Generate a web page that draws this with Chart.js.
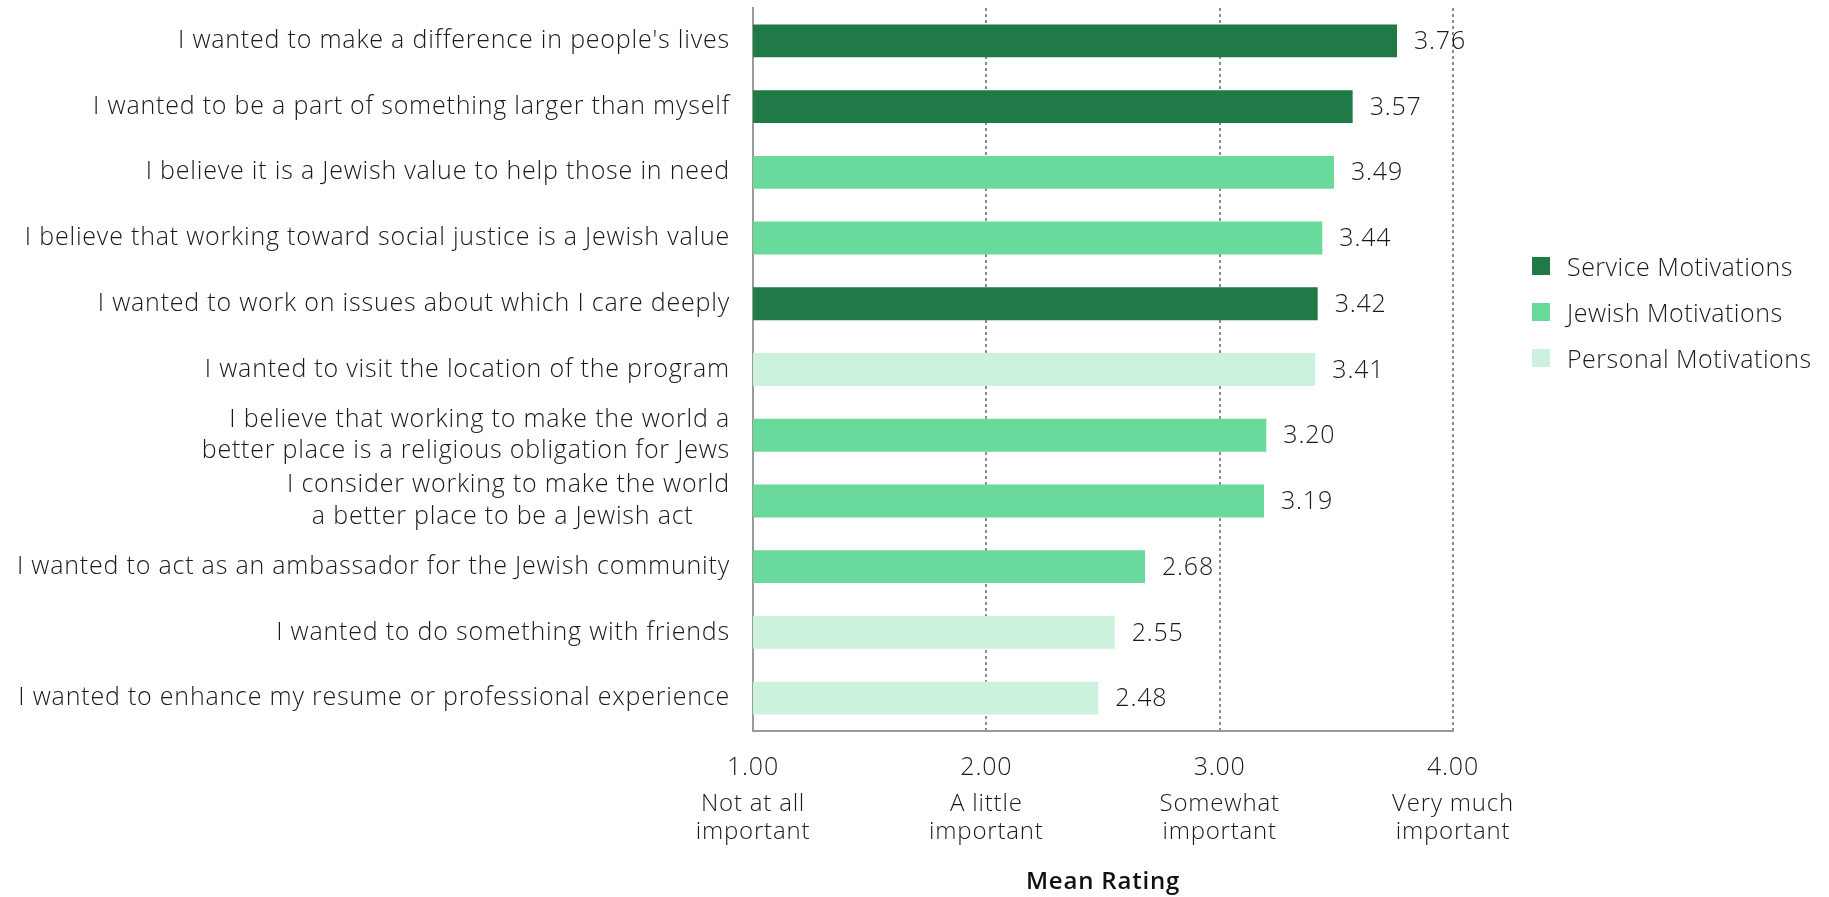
<!DOCTYPE html>
<html>
<head>
<meta charset="utf-8">
<script src="https://cdn.jsdelivr.net/npm/chart.js@4.4.0/dist/chart.umd.min.js"></script>
<style>
  html, body { margin: 0; padding: 0; background: #fff; }
  #contenedor { position: relative; width: 1829px; height: 897px; }
  #leyenda { position: absolute; left: 1532px; top: 243px; font-family: "Open Sans", sans-serif; font-weight: 300; font-size: 25px; letter-spacing: 0.5px; color: #1a1a1a; }
  .item { display: flex; align-items: center; height: 46px; white-space: nowrap; }
  .cuadro { width: 18px; height: 18px; margin-right: 17px; }
</style>
</head>
<body>
<div id="contenedor">
  <canvas id="grafico" width="1829" height="897"></canvas>
  <div id="leyenda"></div>
</div>
<script>
// datos
const categorias = [
  "I wanted to make a difference in people's lives",
  "I wanted to be a part of something larger than myself",
  "I believe it is a Jewish value to help those in need",
  "I believe that working toward social justice is a Jewish value",
  "I wanted to work on issues about which I care deeply",
  "I wanted to visit the location of the program",
  ["I believe that working to make the world a", "better place is a religious obligation for Jews"],
  ["I consider working to make the world", "a better place to be a Jewish act     "],
  "I wanted to act as an ambassador for the Jewish community",
  "I wanted to do something with friends",
  "I wanted to enhance my resume or professional experience"
];
const valores = [3.76, 3.57, 3.49, 3.44, 3.42, 3.41, 3.20, 3.19, 2.68, 2.55, 2.48];
const grupos = [0, 0, 1, 1, 0, 2, 1, 1, 1, 2, 2];
const nombresGrupos = ["Service Motivations", "Jewish Motivations", "Personal Motivations"];
const coloresGrupos = ["#1F7A48", "#69DA9B", "#CCF2DE"];
const ticksDescripcion = [
  ["Not at all", "important"],
  ["A little", "important"],
  ["Somewhat", "important"],
  ["Very much", "important"]
];

const fuente = "'Open Sans', sans-serif";
const colorTexto = "#1a1a1a";

// la fuente original es mas abierta, se agrega espaciado entre letras
const espaciado = {
  id: "espaciado",
  beforeLayout(chart) { chart.ctx.letterSpacing = "0.8px"; },
  beforeDraw(chart) { chart.ctx.letterSpacing = "0.8px"; }
};

// etiquetas de valor al final de cada barra
const etiquetasValores = {
  id: "etiquetasValores",
  afterDatasetsDraw(chart) {
    const ctx = chart.ctx;
    const meta = chart.getDatasetMeta(0);
    ctx.save();
    ctx.font = "300 25px " + fuente;
    ctx.fillStyle = colorTexto;
    ctx.textAlign = "left";
    ctx.textBaseline = "middle";
    meta.data.forEach((barra, i) => {
      ctx.fillText(valores[i].toFixed(2), barra.x + 17, barra.y + 1);
    });
    ctx.restore();
  }
};

new Chart(document.getElementById("grafico"), {
  type: "bar",
  data: {
    labels: categorias,
    datasets: [{
      label: "Mean Rating",
      data: valores,
      backgroundColor: grupos.map(g => coloresGrupos[g]),
      borderWidth: 0,
      barPercentage: 0.5,
      categoryPercentage: 1
    }]
  },
  options: {
    indexAxis: "y",
    responsive: false,
    animation: false,
    events: [],
    layout: { padding: { top: 8, right: 376, left: 0, bottom: 0 } },
    plugins: {
      legend: { display: false },
      tooltip: { enabled: false }
    },
    scales: {
      y: {
        grid: { display: false, drawTicks: false },
        border: { display: true, color: "#9a9a9a", width: 2 },
        ticks: {
          autoSkip: false,
          padding: 23,
          color: colorTexto,
          font: { family: fuente, size: 25, weight: 300, lineHeight: 1.26 }
        },
        afterFit(escala) {
          escala.width = 753;
          escala.paddingTop = 0;
          escala.paddingBottom = 0;
        }
      },
      x: {
        min: 1,
        max: 4,
        grid: {
          drawTicks: false,
          lineWidth: 2,
          color: ctx => (ctx.tick && ctx.tick.value === 1) ? "rgba(0,0,0,0)" : "#8c8c8c"
        },
        border: { display: true, color: "#9a9a9a", width: 2, dash: [3, 3] },
        ticks: {
          stepSize: 1,
          padding: 22,
          color: colorTexto,
          font: { family: fuente, size: 25, weight: 300 },
          callback: v => Number(v).toFixed(2)
        },
        afterFit(escala) { escala.height = 52; }
      },
      x2: {
        type: "linear",
        position: "bottom",
        min: 1,
        max: 4,
        grid: { display: false, drawTicks: false },
        border: { display: false },
        ticks: {
          stepSize: 1,
          padding: 7,
          color: colorTexto,
          font: { family: fuente, size: 24, weight: 300, lineHeight: 1.17 },
          callback: (v, i) => ticksDescripcion[i]
        },
        title: {
          display: true,
          text: "Mean Rating",
          color: "#111",
          padding: { top: 0, bottom: 0 },
          font: { family: fuente, size: 24, weight: 600 }
        },
        afterFit(escala) { escala.height = 114; }
      }
    }
  },
  plugins: [espaciado, etiquetasValores]
});

// leyenda
const nodoLeyenda = document.getElementById("leyenda");
nombresGrupos.forEach((nombre, i) => {
  nodoLeyenda.innerHTML += `<div class="item"><span class="cuadro" style="background:${coloresGrupos[i]}"></span>${nombre}</div>`;
});
</script>
</body>
</html>
